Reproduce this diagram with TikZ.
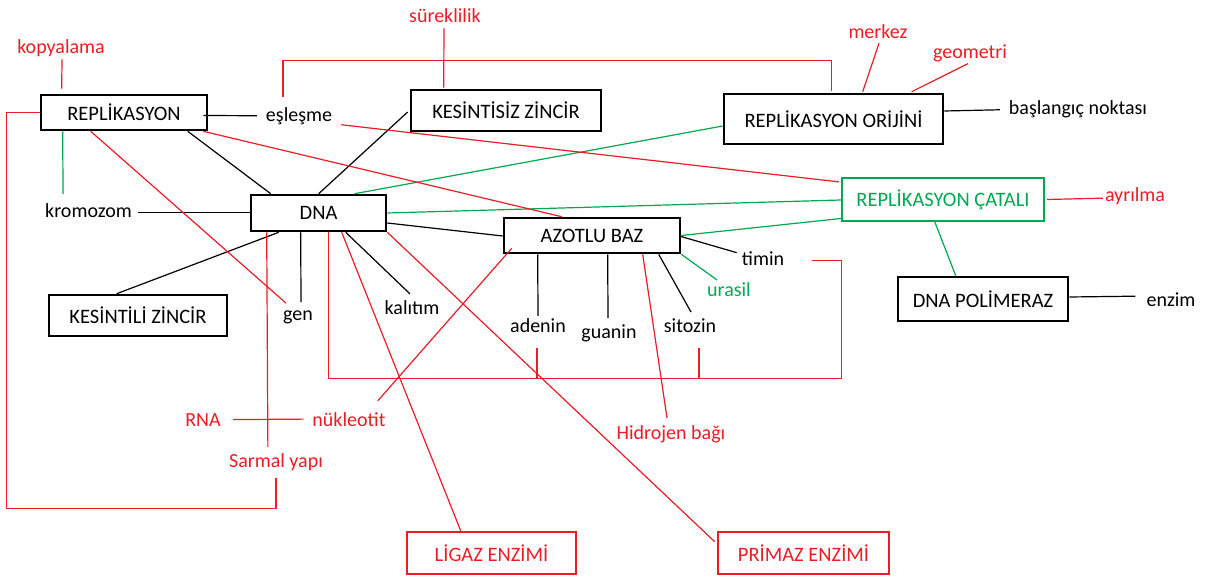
\documentclass[tikz,border=0pt]{standalone}
\usepackage{fontspec}
\setmainfont{Carlito}
\usetikzlibrary{calc}
\definecolor{mred}{RGB}{236,28,36}
\definecolor{mgreen}{RGB}{0,168,80}
\begin{document}
\begin{tikzpicture}[x=1pt,y=-1pt,
  font=\fontsize{20}{24}\selectfont,
  box/.style={draw=black, line width=2.6pt, inner sep=0pt, font=\fontsize{20.5}{24}\selectfont},
  lbl/.style={inner sep=0pt, anchor=base},
  rlbl/.style={lbl, text=mred},
  blk/.style={line width=1.2pt, black},
  grn/.style={line width=1.2pt, mgreen},
  rd/.style={line width=1.2pt, mred}]
\useasboundingbox (0,0) rectangle (1205,577);

% concept boxes
\node[box, minimum width=166, minimum height=35] (rep) at (124,112.5) {REPLİKASYON};
\node[box, minimum width=190, minimum height=41] (kesz) at (506,110.5) {KESİNTİSİZ ZİNCİR};
\node[box, minimum width=219, minimum height=50] (orj) at (833.5,119) {REPLİKASYON ORİJİNİ};
\node[box, minimum width=135, minimum height=36] (dna) at (318.5,213) {DNA};
\node[box, minimum width=176, minimum height=35] (azot) at (592,235.5) {AZOTLU BAZ};
\node[box, draw=mgreen, text=mgreen, line width=2.2pt, minimum width=202, minimum height=43] (catal) at (943,199.5) {REPLİKASYON ÇATALI};
\node[box, minimum width=170, minimum height=44] (pol) at (983,299) {DNA POLİMERAZ};
\node[box, minimum width=178, minimum height=41] (kesl) at (138,315.5) {KESİNTİLİ ZİNCİR};
\node[box, draw=mred, text=mred, minimum width=169, minimum height=42] (ligaz) at (491.5,553) {LİGAZ ENZİMİ};
\node[box, draw=mred, text=mred, minimum width=171, minimum height=42] (primaz) at (803.5,553) {PRİMAZ ENZİMİ};

% plain labels
\node[lbl] (esl) at (299,122) {eşleşme};
\node[lbl] (krom) at (88.5,218) {kromozom};
\node[lbl] (basl) at (1078,115) {başlangıç noktası};
\node[lbl] (gen) at (298,321) {gen};
\node[lbl] (kalitim) at (412,315) {kalıtım};
\node[lbl] (adenin) at (538,333) {adenin};
\node[lbl] (guanin) at (609,339) {guanin};
\node[lbl] (sitozin) at (690,333) {sitozin};
\node[lbl] (timin) at (763,266) {timin};
\node[lbl, text=mgreen] (urasil) at (729,297) {urasil};
\node[lbl] (enzim) at (1171,307) {enzim};

% red labels
\node[rlbl] (kopy) at (61,54) {kopyalama};
\node[rlbl] (surek) at (445,23) {süreklilik};
\node[rlbl] (merkez) at (878,39) {merkez};
\node[rlbl] (geom) at (970,59) {geometri};
\node[rlbl] (ayr) at (1135,202) {ayrılma};
\node[rlbl] (rna) at (203,426) {RNA};
\node[rlbl] (nukl) at (349,426) {nükleotit};
\node[rlbl] (sarmal) at (276,467) {Sarmal yapı};
\node[rlbl] (hidro) at (671,439) {Hidrojen bağı};

% black connectors
\draw[blk] ($(rep.east)+(-5,3)$) -- ($(esl.west)+(-9,-1)$);
\draw[blk] ($(rep.south west)+(148,0)$) -- ($(dna.north west)+(21,0)$);
\draw[blk] ($(kesz.west)+(-2,1.5)$) -- ($(dna.north west)+(69,0)$);
\draw[blk] ($(krom.east)+(6,1)$) -- ($(krom.east -| dna.west)+(0,1)$);
\draw[blk] ($(dna.south west)+(29,0)$) -- ($(kesl.north west)+(69,0)$);
\draw[blk] ($(dna.south west)+(51,0)$) -- ($(gen.north)+(3,-9)$);
\draw[blk] ($(dna.south west)+(96,0)$) -- ($(kalitim.north)+(-2,-7)$);
\draw[blk] ($(dna.east)+(0,10)$) -- ($(azot.west)+(0,0.5)$);
\draw[blk] ($(azot.south west)+(35,0)$) -- ($(adenin.north)+(0,-3)$);
\draw[blk] ($(azot.south west)+(105,0)$) -- ($(guanin.north)+(-1,-7)$);
\draw[blk] ($(azot.south west)+(156,0)$) -- ($(sitozin.north)+(1,-7)$);
\draw[blk] ($(azot.east)+(-2,0.5)$) -- ($(timin.west)+(-5,-6.5)$);
\draw[blk] ($(orj.east)+(0,-8)$) -- ($(basl.west)+(-9,0)$);
\draw[blk] ($(pol.east)+(0,-2)$) -- ($(enzim.west)+(-11,-4)$);

% green connectors
\draw[grn] ($(rep.south west)+(23,0)$) -- ($(krom.north west)+(18,-10)$);
\draw[grn] ($(dna.north west)+(105,0)$) -- ($(orj.west)+(0,7)$);
\draw[grn] (dna.east) -- ($(catal.west)+(0,0.5)$);
\draw[grn] (azot.east) -- ($(catal.west)+(0,19)$);
\draw[grn] (azot.south east) -- ($(urasil.north west)+(10,-3)$);
\draw[grn] ($(catal.south west)+(94,0)$) -- ($(pol.north west)+(59,0)$);

% red connectors
\draw[rd] ($(kopy.south)+(1,2)$) -- ($(rep.north west)+(22,-5)$);
\draw[rd] (rep.west) -- ++(-33,0) |- ($(sarmal.south)+(0,38)$) -- ($(sarmal.south)+(0,8)$);
\draw[rd] ($(esl.north)+(-16,-11)$) |- ($(orj.north west)+(109,-32)$) -- ($(orj.north west)+(109,-2)$);
\draw[rd] ($(surek.south)+(-1,5)$) -- ($(kesz.north west)+(34,-1)$);
\draw[rd] ($(merkez.south)+(1,4)$) -- ($(orj.north west)+(140,-1)$);
\draw[rd] ($(geom.south)+(-2,1)$) -- ($(orj.north west)+(189,-1)$);
\draw[rd] ($(catal.east)+(2,0)$) -- ($(ayr.west)+(-2,1.5)$);
\draw[rd] ($(esl.east)+(9,8)$) -- ($(catal.north west)+(-2,5)$);
\draw[rd] ($(rep.south east)+(-5,0)$) -- ($(azot.north west)+(59,0)$);
\draw[rd] ($(rep.south west)+(51,0)$) -- ($(gen.north west)+(3,-8)$);
\draw[rd] ($(dna.south west)+(17,0)$) -- ($(sarmal.north west)+(39,-6)$);
\draw[rd] ($(rna.east)+(12,0)$) -- ($(nukl.west)+(-9,0)$);
\draw[rd] ($(nukl.north east)+(-8,-11)$) -- ($(azot.south west)+(9,-6)$);
\draw[rd] ($(dna.south west)+(79,0)$) |- ($(timin.east)+(57,119.5)$) |- ($(timin.east)+(28,1.5)$);
\draw[rd] ($(adenin.south)+(-1,15)$) -- ++(0,31);
\draw[rd] ($(sitozin.south)+(9,15)$) -- ++(0,31);
\draw[rd] ($(dna.south west)+(92,0)$) -- ($(ligaz.north west)+(55,0)$);
\draw[rd] (dna.south east) -- ($(primaz.north west)+(-2,11)$);
\draw[rd] ($(azot.south west)+(140,0)$) -- ($(hidro.north)+(-4,-7)$);
\end{tikzpicture}
\end{document}
